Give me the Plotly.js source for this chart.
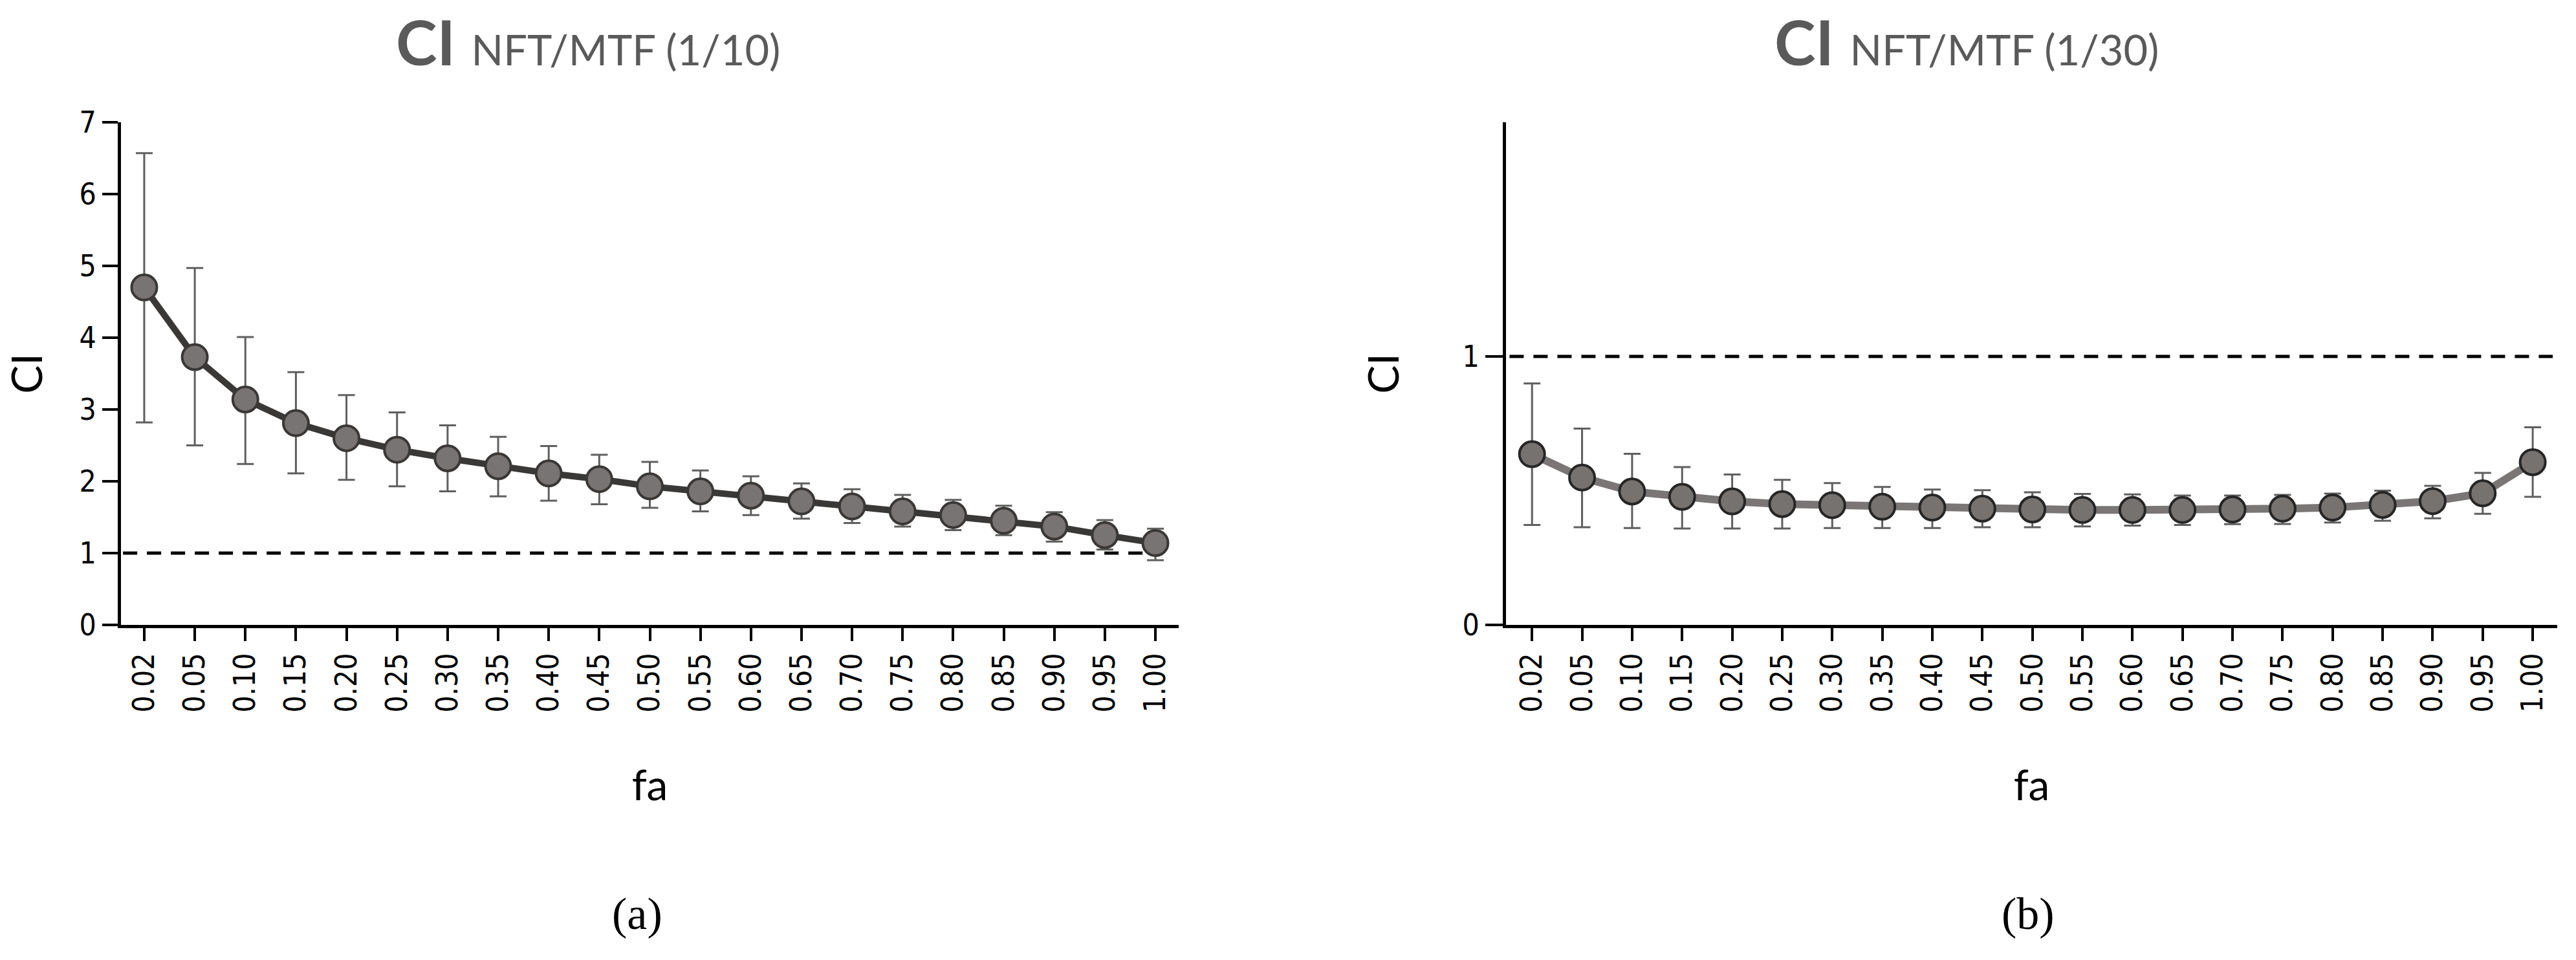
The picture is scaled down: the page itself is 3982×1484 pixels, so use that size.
<!DOCTYPE html>
<html>
<head>
<meta charset="utf-8">
<script src="https://cdn.plot.ly/plotly-3.0.1.min.js"></script>
<style>html,body{margin:0;padding:0;background:#fff;}#chart{width:3982px;height:1484px;}</style>
</head>
<body>
<div id="chart"></div>
<script>
// ---------- data ----------
const categories = ['0.02','0.05','0.10','0.15','0.20','0.25','0.30','0.35','0.40','0.45','0.50',
                    '0.55','0.60','0.65','0.70','0.75','0.80','0.85','0.90','0.95','1.00'];

// panel (a): CI NFT/MTF (1/10)
const mean10  = [4.70,3.73,3.14,2.81,2.60,2.44,2.32,2.21,2.11,2.03,1.93,1.86,1.80,1.72,1.65,1.58,1.53,1.45,1.37,1.25,1.14];
const upper10 = [6.57,4.97,4.01,3.52,3.20,2.96,2.78,2.62,2.49,2.37,2.27,2.15,2.07,1.97,1.89,1.81,1.74,1.66,1.57,1.46,1.34];
const lower10 = [2.82,2.50,2.24,2.11,2.02,1.93,1.86,1.79,1.73,1.68,1.63,1.58,1.53,1.48,1.42,1.37,1.32,1.25,1.16,1.05,0.90];

// panel (b): CI NFT/MTF (1/30)
const mean30  = [0.636,0.549,0.497,0.477,0.460,0.450,0.446,0.440,0.437,0.433,0.430,0.428,0.428,0.428,0.430,0.433,0.437,0.447,0.461,0.490,0.606];
const upper30 = [0.899,0.731,0.637,0.588,0.560,0.540,0.528,0.514,0.504,0.502,0.494,0.488,0.486,0.482,0.482,0.484,0.489,0.500,0.518,0.566,0.736];
const lower30 = [0.372,0.364,0.361,0.359,0.359,0.359,0.361,0.361,0.361,0.364,0.364,0.367,0.370,0.372,0.375,0.376,0.381,0.388,0.397,0.414,0.477];

const referenceLevel = 1;
const yTicksA = [0,1,2,3,4,5,6,7];
const yTicksB = [0,1];
const titleA = 'NFT/MTF (1/10)';
const titleB = 'NFT/MTF (1/30)';
const panelLabels = ['(a)','(b)'];

// ---------- helpers ----------
const W = 3982, H = 1484;
const px = v => v / W;
const py = v => 1 - v / H;
const diff = (a, b) => a.map((v, i) => +(v - b[i]).toFixed(4));

const tickFont = {family: 'DejaVu Sans Condensed, DejaVu Sans, sans-serif', size: 46, color: '#000'};
const titleFont = {family: 'Lato, Open Sans, sans-serif', size: 66, color: '#000'};

function trace(y, up, lo, xa, ya, lineColor, lineWidth, fill, edge) {
  return {
    type: 'scatter', mode: 'lines+markers',
    x: categories, y: y, xaxis: xa, yaxis: ya,
    line: {color: lineColor, width: lineWidth},
    marker: {symbol: 'circle', size: 39, color: fill, line: {color: edge, width: 4}},
    error_y: {type: 'data', symmetric: false, array: diff(up, y), arrayminus: diff(y, lo),
              color: '#5f5f5f', thickness: 3, width: 13},
    showlegend: false, hoverinfo: 'skip'
  };
}

const data = [
  trace(mean10, upper10, lower10, 'x', 'y', '#3a3836', 10, '#787473', '#3a3836'),
  trace(mean30, upper30, lower30, 'x2', 'y2', '#7a7675', 12, '#767270', '#262626')
];

function xAxis(domain, range, anchor) {
  return {
    domain: domain, range: range, anchor: anchor, type: 'category',
    showline: true, linecolor: '#000', linewidth: 5, mirror: false,
    ticks: 'outside', ticklen: 20, tickwidth: 4, tickcolor: '#000',
    tickangle: -90, tickfont: tickFont, showgrid: false, zeroline: false,
    title: {text: 'fa', font: titleFont, standoff: 92}
  };
}
function yAxis(domain, range, anchor, tickvals, ticklen, standoff) {
  return {
    domain: domain, range: range, anchor: anchor,
    showline: true, linecolor: '#000', linewidth: 5,
    ticks: 'outside', ticklen: ticklen, tickwidth: 4, tickcolor: '#000',
    tickmode: 'array', tickvals: tickvals, ticktext: tickvals.map(String),
    tickfont: tickFont, showgrid: false, zeroline: false,
    title: {text: 'CI', font: titleFont, standoff: standoff}
  };
}

const yDom = [py(966), py(189)];

const layout = {
  width: W, height: H,
  margin: {l: 0, r: 0, t: 0, b: 0, pad: 0},
  paper_bgcolor: '#fff', plot_bgcolor: '#fff',
  showlegend: false,
  xaxis: xAxis([px(187), px(1822)], [-0.46, 20.46], 'y'),
  yaxis: yAxis(yDom, [0, 7], 'x', yTicksA, 24, 40),
  xaxis2: xAxis([px(2328), px(3953)], [-0.52, 20.49], 'y2'),
  yaxis2: yAxis(yDom, [0, 1.872], 'x2', yTicksB, 27, 78),
  shapes: [
    {type: 'line', xref: 'x', yref: 'y', x0: -0.42, x1: 20, y0: referenceLevel, y1: referenceLevel,
     line: {color: '#000', width: 5, dash: '22px,15px'}, layer: 'below'},
    {type: 'line', xref: 'x2', yref: 'y2', x0: -0.45, x1: 20.4, y0: referenceLevel, y1: referenceLevel,
     line: {color: '#000', width: 5, dash: '22px,15px'}, layer: 'below'}
  ],
  annotations: [
    {xref: 'paper', yref: 'paper', x: px(909), y: py(64), xanchor: 'center', yanchor: 'middle', showarrow: false,
     text: '<b>CI</b> <span style="font-size:65px">' + titleA + '</span>',
     font: {family: 'Lato, Open Sans, sans-serif', size: 96, color: '#5a5a5a'}},
    {xref: 'paper', yref: 'paper', x: px(3040), y: py(64), xanchor: 'center', yanchor: 'middle', showarrow: false,
     text: '<b>CI</b> <span style="font-size:65px">' + titleB + '</span>',
     font: {family: 'Lato, Open Sans, sans-serif', size: 96, color: '#5a5a5a'}},
    {xref: 'paper', yref: 'paper', x: px(985), y: py(1412), xanchor: 'center', yanchor: 'middle', showarrow: false,
     text: panelLabels[0], font: {family: 'Liberation Serif, DejaVu Serif, serif', size: 70, color: '#000'}},
    {xref: 'paper', yref: 'paper', x: px(3135), y: py(1412), xanchor: 'center', yanchor: 'middle', showarrow: false,
     text: panelLabels[1], font: {family: 'Liberation Serif, DejaVu Serif, serif', size: 70, color: '#000'}}
  ]
};

Plotly.newPlot('chart', data, layout, {displayModeBar: false, staticPlot: true});
</script>
</body>
</html>
